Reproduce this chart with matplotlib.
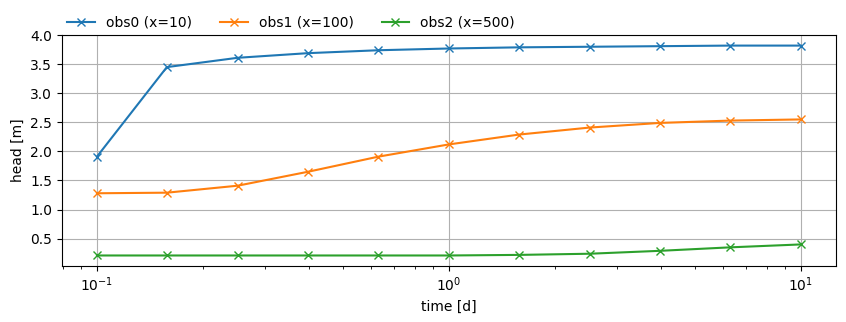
import numpy as np
import matplotlib
matplotlib.use("Agg")
import matplotlib.pyplot as plt

# observation times [d]
times = [0.1, 0.158, 0.251, 0.398, 0.631, 1.0, 1.585, 2.512, 3.981, 6.31, 10.0]

# heads at the observation points [m]
obs0 = [1.91, 3.45, 3.61, 3.69, 3.74, 3.77, 3.79, 3.80, 3.81, 3.82, 3.82]
obs1 = [1.28, 1.29, 1.41, 1.65, 1.91, 2.12, 2.29, 2.41, 2.49, 2.53, 2.55]
obs2 = [0.21, 0.21, 0.21, 0.21, 0.21, 0.21, 0.22, 0.24, 0.29, 0.35, 0.40]
labels = ["obs0 (x=10)", "obs1 (x=100)", "obs2 (x=500)"]

fig = plt.figure(figsize=(8.46, 3.22), dpi=100)
ax = fig.add_axes([0.073, 0.174, 0.915, 0.717])

for heads, lab in zip([obs0, obs1, obs2], labels):
    ax.plot(times, heads, marker="x", label=lab)

ax.set_xscale("log")
ax.grid(True)
ax.set_xlabel("time [d]")
ax.set_ylabel("head [m]")
ax.legend(loc="lower left", bbox_to_anchor=(0, 1), ncol=3, frameon=False,
          borderaxespad=0.0)

fig.savefig("out.png", dpi=100)
